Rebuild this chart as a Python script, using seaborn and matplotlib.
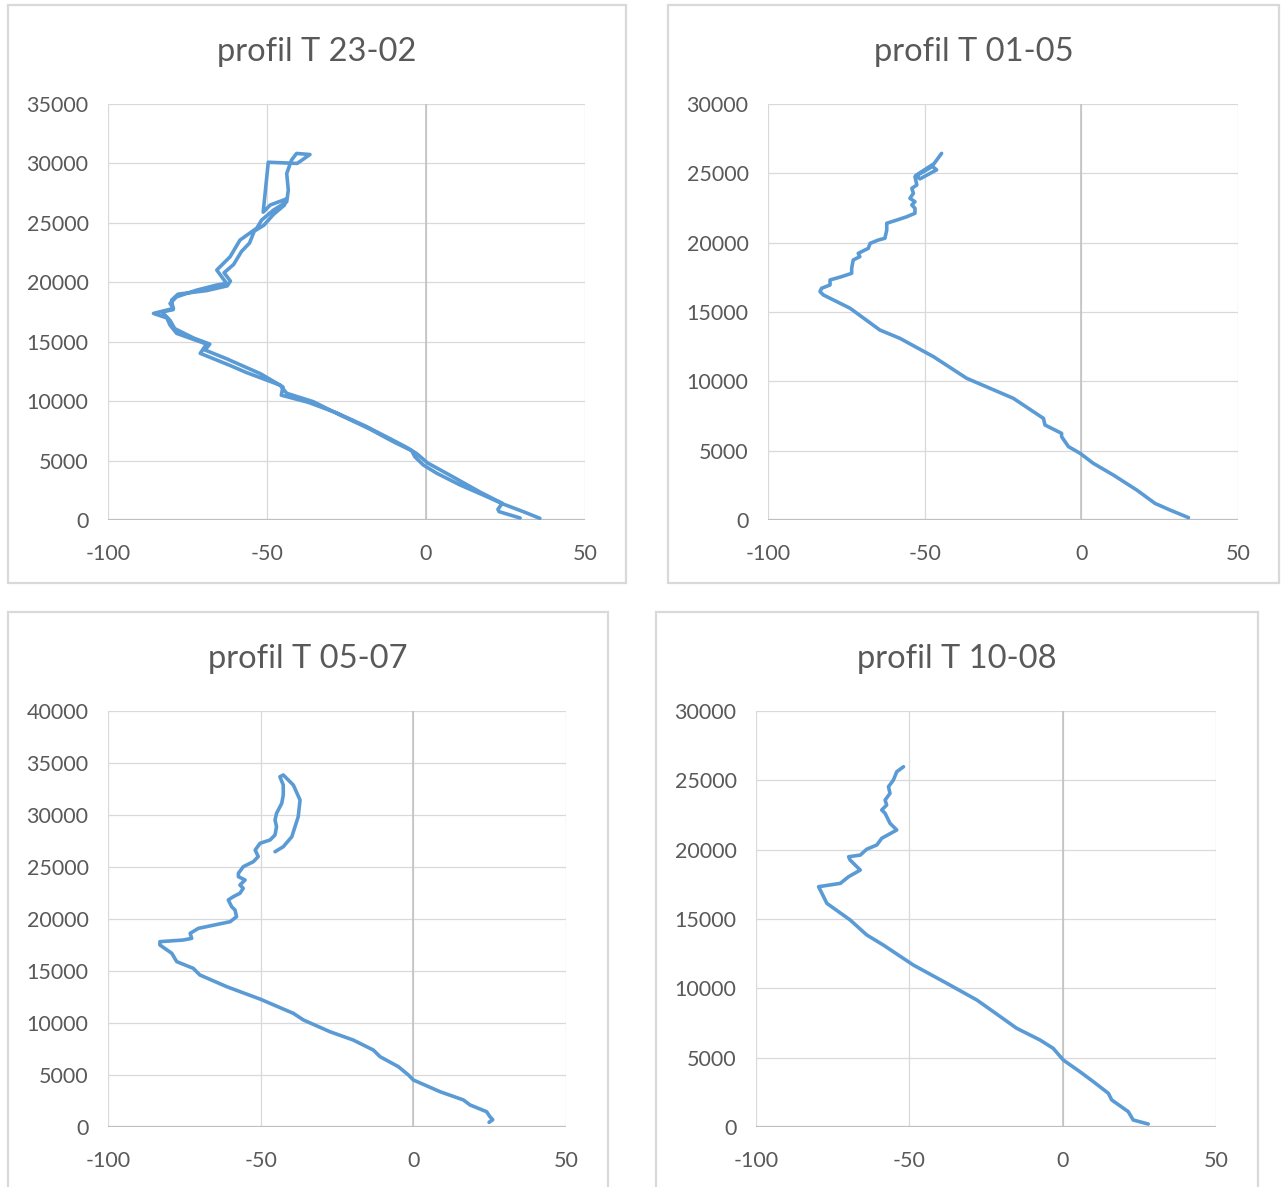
import numpy as np
import pandas as pd
import seaborn as sns
import matplotlib.pyplot as plt
from matplotlib.patches import Rectangle

# temperature (C) / altitude (m) profiles
t_2302 = [35.8, 30.6, 24.3, 18, 10.7, 3.4, -0.8, -3.5, -4.5, -10.3, -18.1, -27, -35.4, -43.8,
          -45.9, -56.4, -61.6, -71, -69, -78.4, -80.5, -81.5, -85.7, -79.4, -80.5, -78.4, -72.1,
          -65.8, -62.7, -65.8, -61.6, -58.5, -53.2, -51.7, -48, -43.8, -43.3, -43.8, -42.3, -40.7,
          -36.5, -40.5, -49.6, -51.2, -49, -44, -44.5, -48, -51, -54, -55.5, -58, -60.5, -63.5,
          -61.5, -62.5, -69, -78, -80, -79.5, -83, -80.5, -79, -73, -68, -69.5, -63, -52, -45,
          -45.5, -37, -28, -19, -11, -6, -3, 0.5, 8, 17, 24, 22.6, 23, 29.6]
z_2302 = [140, 700, 1340, 2100, 2950, 3930, 4620, 5320, 5830, 6590, 7710, 8830, 9950, 10660,
          11350, 12400, 13000, 14020, 14800, 15700, 16400, 17000, 17380, 17800, 18220, 18780, 19340,
          19770, 19900, 21030, 22150, 23550, 24560, 25230, 26070, 26770, 27750, 29150, 30280, 30840,
          30750, 30000, 30100, 25900, 26500, 27000, 26500, 25700, 24800, 24300, 23300, 22600, 21500, 20800,
          20100, 19700, 19300, 19000, 18500, 17700, 17500, 16800, 16100, 15300, 14800, 14300, 13600, 12300, 11200,
          10500, 9900, 9000, 7900, 6800, 6100, 5600, 4800, 3700, 2350, 1400, 900, 700, 170]

t_0105 = [34.2, 28.3, 23.5, 17.7, 10.2, 3.8, -0.4, -4.1, -6.3, -6.3, -11.6, -12.1, -21.7, -36.6,
          -47.2, -57.9, -64.3, -73.8, -82.3, -83.4, -82.9, -80.2, -80.2, -76.5, -73.3, -73.3, -72.8,
          -70.7, -71.2, -68, -67.4, -64.8, -62.7, -62.1, -62.1, -58.9, -55.7, -53.1, -53.1, -54.1,
          -53.1, -54.7, -53.6, -54.1, -52.5, -53.1, -47.5, -46.2, -51.5, -52.8, -47, -44.6]
z_0105 = [170, 720, 1200, 2160, 3245, 4090, 4810, 5290, 6010, 6250, 6850, 7330, 8775, 10220,
          11780, 13100, 13700, 15270, 16225, 16470, 16710, 16950, 17310, 17550, 17790, 18150, 18750,
          18990, 19230, 19590, 19950, 20190, 20315, 20910, 21400, 21630, 21870, 22120, 22480, 22720,
          22955, 23200, 23560, 23920, 24160, 24760, 25500, 25250, 24600, 24850, 25700, 26440]

t_0507 = [24.8, 26, 25.1, 24, 18.6, 16.4, 8.7, 0, -1.6, -4.9, -10.9, -13.1, -19.7, -27.3, -36,
          -39.3, -50.2, -61.1, -69.9, -72.1, -77.5, -79.1, -83, -83, -75.3, -72.6, -73.1, -70.4,
          -60, -57.9, -58.4, -59.5, -60.6, -59, -56.8, -55.7, -56.8, -55.1, -57.3, -57.3, -55.7,
          -52.4, -50.8, -51.8, -50.2, -46.9, -45.3, -44.8, -45.3, -44.8, -43.1, -42.6, -42.6,
          -43.7, -42.6, -39.3, -37.1, -37.7, -39.8, -42.6, -45.3]
z_0507 = [450, 700, 990, 1470, 2115, 2600, 3400, 4520, 5000, 5800, 6760, 7400, 8365, 9160, 10290,
          10930, 12300, 13490, 14615, 15260, 15900, 16700, 17500, 17820, 17980, 18140, 18620, 19100,
          19740, 20220, 20865, 21180, 21830, 22140, 22470, 22950, 23270, 23750, 24070, 24390, 25030,
          25510, 26000, 26630, 27280, 27600, 28080, 28875, 29520, 30160, 31120, 31920, 32880,
          33680, 33850, 32880, 31440, 29840, 27910, 26950, 26470]

t_1008 = [27.9, 23, 21.4, 16, 14.9, 10, 5.6, 0.2, -3.1, -7.4, -15, -22.6, -28, -37.8, -48.7,
          -58.5, -63.9, -69.3, -76.9, -78.5, -79.6, -72.5, -69.8, -66, -69.3, -69.8, -66, -63.9,
          -60.6, -59, -54.1, -56.3, -57.9, -59, -57.4, -57.9, -56.3, -56.8, -55.2, -54.1, -51.9]
z_1008 = [215, 505, 1105, 1950, 2430, 3270, 3990, 4830, 5675, 6275, 7120, 8315, 9160, 10365, 11680,
          13125, 13850, 14930, 16130, 16850, 17330, 17570, 18050, 18530, 19250, 19490, 19610, 20030,
          20340, 20820, 21420, 21900, 22620, 22860, 23220, 23580, 24060, 24540, 25020, 25620, 25980]

titles = ["profil T 23-02", "profil T 01-05", "profil T 05-07", "profil T 10-08"]
y_max = [35000, 30000, 40000, 30000]
x_ticks = [-100, -50, 0, 50]

sns.set_style("white")
plt.rcParams['font.family'] = ['Lato', 'DejaVu Sans']
plt.rcParams['axes.unicode_minus'] = False

W, H = 1282, 1187
fig = plt.figure(figsize=(W / 100, H / 100), dpi=100)

# panel frames (x0, y0, x1, y1) and plot areas in pixels
frames = [(8, 5, 626, 583), (668, 5, 1279, 583), (8, 612, 608, 1192), (656, 612, 1258, 1192)]
areas = [(108, 104, 585, 520), (768, 104, 1238, 520), (108, 711, 566, 1127), (756, 711, 1216, 1127)]
profiles = [(t_2302, z_2302), (t_0105, z_0105), (t_0507, z_0507), (t_1008, z_1008)]

grey_txt = "#595959"
blue = "#5B9BD5"

for i in range(4):
    fx0, fy0, fx1, fy1 = frames[i]
    fig.patches.append(Rectangle((fx0 / W, 1 - fy1 / H), (fx1 - fx0) / W, (fy1 - fy0) / H,
                                 transform=fig.transFigure, fill=False,
                                 edgecolor="#D9D9D9", linewidth=1.6))
    fig.text((fx0 + fx1) / 2 / W, 1 - (fy0 + 47) / H, titles[i], ha="center", va="center",
             fontsize=23.5, color=grey_txt)

    ax0, ay0, ax1, ay1 = areas[i]
    ax = fig.add_axes([ax0 / W, 1 - ay1 / H, (ax1 - ax0) / W, (ay1 - ay0) / H])
    df = pd.DataFrame({"T": profiles[i][0], "z": profiles[i][1]})
    sns.lineplot(data=df, x="T", y="z", sort=False, estimator=None, ax=ax,
                 color=blue, linewidth=2.6)

    ax.set_xlim(-100, 50)
    ax.set_ylim(0, y_max[i])
    ax.set_xticks(x_ticks)
    ax.set_yticks(np.arange(0, y_max[i] + 1, 5000))
    ax.grid(True, color="#D9D9D9", linewidth=0.9)
    ax.set_axisbelow(True)
    ax.axvline(0, color="#BFBFBF", linewidth=1.1, zorder=1)
    ax.axhline(0, color="#BFBFBF", linewidth=1.6, zorder=1)
    for s in ax.spines.values():
        s.set_visible(False)
    ax.tick_params(length=0, labelsize=15.5, labelcolor=grey_txt)
    ax.tick_params(axis="x", pad=17)
    ax.tick_params(axis="y", pad=14)
    ax.set_xlabel("")
    ax.set_ylabel("")

fig.savefig("out.png", dpi=100)
